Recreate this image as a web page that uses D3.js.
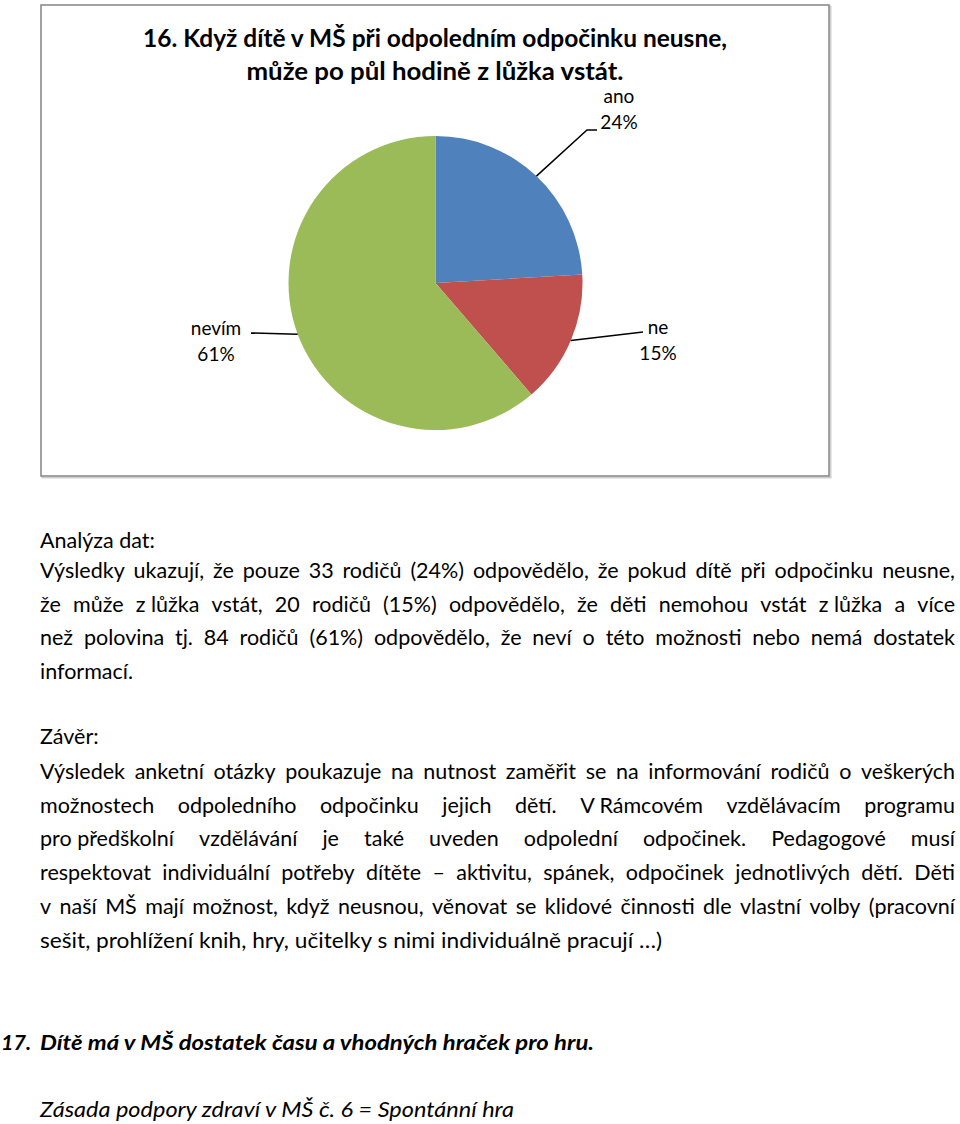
<!DOCTYPE html>
<html><head><meta charset="utf-8">
<script src="https://cdn.jsdelivr.net/npm/d3@7"></script>
<style>
html,body{margin:0;padding:0;background:#fff;}
svg{display:block;}
</style>
</head><body>
<svg id="page" width="960" height="1124"></svg>
<script>
// ---- data ----
const categories = ["ano", "ne", "nevím"];
const counts = [33, 20, 84];
const percentLabels = ["24%", "15%", "61%"];
const colors = ["#4F81BD", "#C0504D", "#9BBB59"];
const titleLines = ["16. Když dítě v MŠ při odpoledním odpočinku neusne,", "může po půl hodině z lůžka vstát."];

const analysisHeading = "Analýza dat:";
const analysisLines = [
  "Výsledky ukazují, že pouze 33 rodičů (24%) odpovědělo, že pokud dítě při odpočinku neusne,",
  "že může z\u00a0lůžka vstát, 20 rodičů (15%) odpovědělo, že děti nemohou vstát z\u00a0lůžka a více",
  "než polovina tj. 84 rodičů (61%) odpovědělo, že neví o této možnosti nebo nemá dostatek",
  "informací."
];
const conclusionHeading = "Závěr:";
const conclusionLines = [
  "Výsledek anketní otázky poukazuje na nutnost zaměřit se na informování rodičů o veškerých",
  "možnostech odpoledního odpočinku jejich dětí. V\u00a0Rámcovém vzdělávacím programu",
  "pro\u00a0předškolní vzdělávání je také uveden odpolední odpočinek. Pedagogové musí",
  "respektovat individuální potřeby dítěte – aktivitu, spánek, odpočinek jednotlivých dětí. Děti",
  "v naší MŠ mají možnost, když neusnou, věnovat se klidové činnosti dle vlastní volby (pracovní",
  "sešit, prohlížení knih, hry, učitelky s nimi individuálně pracují …)"
];
const nextNumber = "17.";
const nextQuestion = "Dítě má v MŠ dostatek času a vhodných hraček pro hru.";
const nextPrinciple = "Zásada podpory zdraví v MŠ č. 6 = Spontánní hra";

// ---- layout ----
const FONT = "Lato, 'Open Sans', sans-serif";
const svg = d3.select("#page");
const box = {x: 41, y: 5, w: 788, h: 471};
const cx = 435.5, cy = 283, R = 147;
const labelLayout = [
  {pts: [[587,130],[597,130]], lx: 619, ly: 103},
  {pts: [[643,332]], lx: 658, ly: 334},
  {pts: [[251,333]], lx: 216, ly: 335}
];

// chart frame
svg.append("rect").attr("x", box.x+1.5).attr("y", box.y+1.5).attr("width", box.w).attr("height", box.h)
  .attr("fill", "none").attr("stroke", "#d0d0d0").attr("stroke-width", 2);
svg.append("rect").attr("x", box.x).attr("y", box.y).attr("width", box.w).attr("height", box.h)
  .attr("fill", "#fff").attr("stroke", "#8c8c8c").attr("stroke-width", 1.6);

// title
titleLines.forEach((t, i) => {
  const el = svg.append("text").attr("x", 435).attr("y", 47 + i*33)
    .attr("text-anchor", "middle").attr("font-family", FONT).attr("font-weight", "bold")
    .attr("font-size", 25).attr("fill", "#000").text(t);
  const targetW = i === 0 ? 584 : 377;
  el.attr("textLength", targetW).attr("lengthAdjust", "spacingAndGlyphs");
});

// pie
const pie = d3.pie().sort(null).value(d => d)(counts);
const arc = d3.arc().innerRadius(0).outerRadius(R);
const gPie = svg.append("g").attr("transform", `translate(${cx},${cy})`);
gPie.selectAll("path").data(pie).join("path")
  .attr("d", arc).attr("fill", (d, i) => colors[i]);

// leader lines & labels
pie.forEach((d, i) => {
  const mid = (d.startAngle + d.endAngle) / 2;
  const ex = cx + R * Math.sin(mid), ey = cy - R * Math.cos(mid);
  const L = labelLayout[i];
  const pts = [[ex, ey]].concat(L.pts);
  svg.append("path").attr("d", d3.line()(pts)).attr("fill", "none")
    .attr("stroke", "#000").attr("stroke-width", 1.5);
  svg.append("text").attr("x", L.lx).attr("y", L.ly).attr("text-anchor", "middle")
    .attr("font-family", FONT).attr("font-size", 19).attr("fill", "#000").text(categories[i]);
  svg.append("text").attr("x", L.lx).attr("y", L.ly + 26).attr("text-anchor", "middle")
    .attr("font-family", FONT).attr("font-size", 19).attr("fill", "#000").text(percentLabels[i]);
});

// body text helpers
const X0 = 40, X1 = 955, FS = 21.5;
function plainLine(txt, x, y, opts = {}) {
  const el = svg.append("text").attr("x", x).attr("y", y).attr("font-family", FONT)
    .attr("font-size", opts.size || FS).attr("font-weight", opts.weight || "normal")
    .attr("font-style", opts.style || "normal").attr("fill", "#000").text(txt);
  if (opts.width) el.attr("textLength", opts.width).attr("lengthAdjust", "spacingAndGlyphs");
  return el;
}
function justifyLine(txt, y) {
  const words = txt.split(" ");
  const g = svg.append("g");
  const els = words.map(w => g.append("text").attr("y", y).attr("font-family", FONT)
    .attr("font-size", FS).attr("fill", "#000").text(w));
  const widths = els.map(e => e.node().getComputedTextLength());
  const sum = d3.sum(widths);
  const avail = X1 - X0;
  let scale = 1;
  const minGap = 5;
  if (sum + minGap * (words.length - 1) > avail) {
    scale = (avail - minGap * (words.length - 1)) / sum;
  }
  const gap = (avail - sum * scale) / (words.length - 1);
  let x = X0;
  els.forEach((e, i) => {
    e.attr("x", x);
    if (scale !== 1) e.attr("textLength", widths[i] * scale).attr("lengthAdjust", "spacingAndGlyphs");
    x += widths[i] * scale + gap;
  });
}

const LH = 33.7;
plainLine(analysisHeading, X0, 548);
analysisLines.forEach((t, i) => {
  const y = 578 + i * LH;
  if (i < analysisLines.length - 1) justifyLine(t, y); else plainLine(t, X0, y);
});
plainLine(conclusionHeading, X0, 744);
conclusionLines.forEach((t, i) => {
  const y = 779 + i * LH;
  if (i < conclusionLines.length - 1) justifyLine(t, y); else plainLine(t, X0, y, {width: 622});
});

plainLine(nextNumber, 1, 1050, {weight: "bold", style: "italic", size: 21.5});
plainLine(nextQuestion, 40, 1050, {weight: "bold", style: "italic", size: 21.5, width: 554});
plainLine(nextPrinciple, 40, 1117, {style: "italic", size: 21.5, width: 474});
</script>
</body></html>
